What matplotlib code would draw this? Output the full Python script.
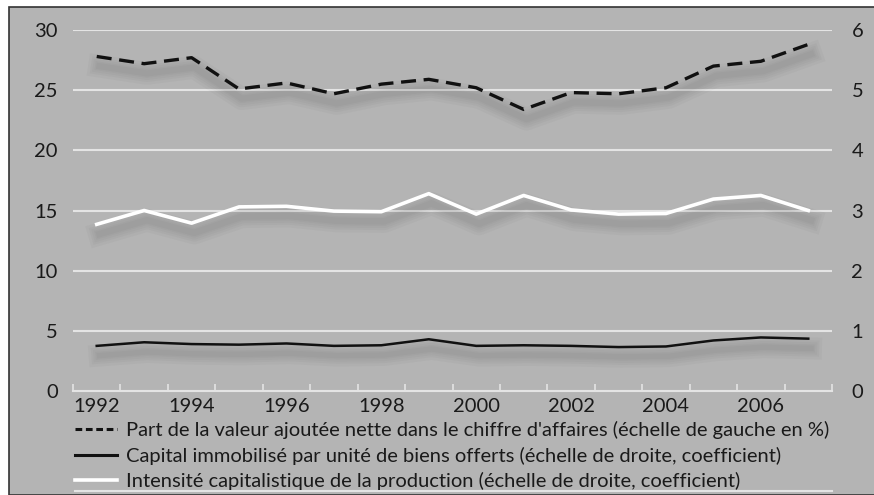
import matplotlib
matplotlib.use('Agg')
import matplotlib.pyplot as plt
import matplotlib.patheffects as pe
from matplotlib.lines import Line2D

# données
years = list(range(1992, 2008))
part_va = [27.8, 27.2, 27.7, 25.1, 25.6, 24.7, 25.5, 25.9, 25.2, 23.4, 24.8, 24.7, 25.2, 27.0, 27.4, 28.8]
capital_immo = [0.75, 0.81, 0.78, 0.77, 0.79, 0.75, 0.76, 0.86, 0.75, 0.76, 0.75, 0.73, 0.74, 0.84, 0.89, 0.87]
intensite = [2.77, 3.0, 2.79, 3.06, 3.07, 2.99, 2.98, 3.28, 2.94, 3.25, 3.01, 2.94, 2.95, 3.19, 3.25, 3.0]
year_labels = ['1992', '1994', '1996', '1998', '2000', '2002', '2004', '2006']

labels = [
    "Part de la valeur ajoutée nette dans le chiffre d'affaires (échelle de gauche en %)",
    "Capital immobilisé par unité de biens offerts (échelle de droite, coefficient)",
    "Intensité capitalistique de la production (échelle de droite, coefficient)",
]

BG = '#b4b4b4'
GRID = '#e4e4e4'
TXT = '#1a1a1a'
plt.rcParams['font.family'] = ['Lato', 'DejaVu Sans']


def shadow(lw, normal=True):
    # ombre floue approximée par plusieurs couches très transparentes
    fx = []
    for extra in (14, 10, 7, 4, 2):
        fx.append(pe.SimpleLineShadow(offset=(2, -7), shadow_color='k', alpha=0.022,
                                      linewidth=lw + extra))
    if normal:
        fx.append(pe.Normal())
    return fx


fig = plt.figure(figsize=(8.74, 4.95), dpi=100)
fig.patch.set_facecolor('white')
# cadre gris
fig.patches.append(plt.Rectangle((8.5 / 874, 0), 1, 1 - 6.5 / 495, transform=fig.transFigure,
                                 facecolor=BG, edgecolor='#333333', linewidth=1.2, zorder=-1))

ax = fig.add_axes([73 / 874, 1 - 391 / 495, (832 - 73) / 874, (391 - 30) / 495])
ax.set_facecolor('none')
ax2 = ax.twinx()

ax.set_xlim(1991.5, 2007.5)
ax.set_ylim(0, 30)
ax2.set_ylim(0, 6)
ax.set_yticks([0, 5, 10, 15, 20, 25, 30])
ax2.set_yticks([0, 1, 2, 3, 4, 5, 6])

for y in [5, 10, 15, 20, 25, 30]:
    ax.axhline(y, color=GRID, lw=1.5, zorder=0)

# ombre continue sous la courbe en tirets
ax.plot(years, part_va, color='none', lw=2.4, path_effects=shadow(2.4, normal=False), zorder=2)
ax.plot(years, part_va, color='#111111', lw=2.4, linestyle=(0, (4.5, 2.3)), zorder=3)
ax2.plot(years, capital_immo, color='#111111', lw=1.8, path_effects=shadow(1.8), zorder=3)
ax2.plot(years, intensite, color='white', lw=2.6, path_effects=shadow(2.6), zorder=3)

for a in (ax, ax2):
    for s in a.spines.values():
        s.set_visible(False)
ax.spines['bottom'].set_visible(True)
ax.spines['bottom'].set_color(GRID)
ax.spines['bottom'].set_linewidth(1.5)

ax.set_xticks([y + 0.5 for y in range(1991, 2008)], minor=False)
ax.set_xticklabels([''] * 17)
ax.set_xticks([int(l) for l in year_labels], minor=True)
ax.set_xticklabels(year_labels, minor=True)
ax.tick_params(axis='x', which='major', direction='in', length=5, width=1.2, color=GRID)
ax.tick_params(axis='x', which='minor', length=0, pad=5, labelsize=14.5, labelcolor=TXT)
ax.tick_params(axis='y', length=0, pad=11, labelsize=14.5, labelcolor=TXT)
ax2.tick_params(axis='y', length=0, pad=14, labelsize=14.5, labelcolor=TXT)

handles = [
    Line2D([], [], color='#111111', lw=2.2, linestyle=(0, (2.2, 1.2))),
    Line2D([], [], color='#111111', lw=2.2),
    Line2D([], [], color='white', lw=2.6),
]
fig.legend(handles, labels, loc='upper left', bbox_to_anchor=(75 / 874, 1 - 421 / 495),
           frameon=False, fontsize=14.5, handlelength=2.1, handletextpad=0.45,
           labelspacing=0.38, borderaxespad=0, borderpad=0, labelcolor=TXT)

# filet blanc en bas
fig.add_artist(Line2D([75 / 874, 832 / 874], [1 - 491 / 495] * 2, transform=fig.transFigure,
                      color=GRID, lw=1.5))

fig.savefig('out.png', dpi=100, facecolor=fig.get_facecolor())
